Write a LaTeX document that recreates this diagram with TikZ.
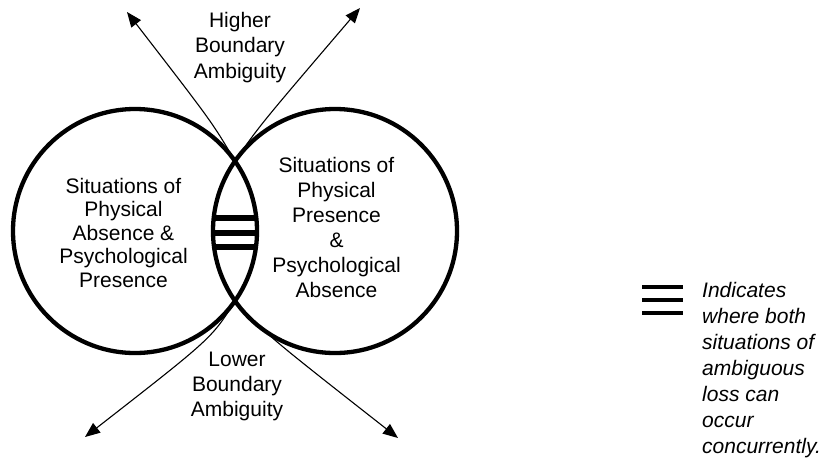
\documentclass[tikz,border=0pt]{standalone}
\usepackage{fontspec}
\setmainfont{Liberation Sans}
\usetikzlibrary{calc,positioning,arrows.meta}

\begin{document}
\begin{tikzpicture}[x=1pt, y=-1pt, lbl/.style={inner sep=0pt, align=center, anchor=north, font=\fontsize{21}{25}\selectfont}]
\tikzstyle{ring}=[circle, draw, line width=4.3pt, minimum size=244pt, inner sep=0pt]
\tikzstyle{ray}=[line width=1.1pt, -{Triangle[length=15pt,width=12pt]}]
\tikzstyle{bar}=[line width=5.2pt]
\useasboundingbox (0,0) rectangle (835,464);
\node[ring] (absence) at (135,231) {};
\node[ring] (presence) at (335,231) {};
\coordinate (hi) at (235,161);
\coordinate (lo) at (235,301);
\coordinate (hl) at (127,12);
\coordinate (hr) at (360,8);
\coordinate (ll) at (85,437);
\coordinate (lr) at (398,438);
\foreach \y in {218,233,247}{\draw[bar] (214,\y) -- (256,\y);}
\node[lbl, font=\fontsize{21}{23.5}\selectfont] (left) at (123.5,178) {Situations of\\Physical\\Absence \&\\Psychological\\Presence};
\node[lbl] (right) at (336.5,157) {Situations of\\Physical\\Presence\\\&\\Psychological\\Absence};
\node[lbl, font=\fontsize{21}{25.5}\selectfont] (higher) at (240,12) {Higher\\Boundary\\Ambiguity};
\node[lbl] (lower) at (237,352) {Lower\\Boundary\\Ambiguity};
\draw[ray] (hi) .. controls (212,122) .. (hl);
\draw[ray] (hi) .. controls (260,125) .. (hr);
\draw[ray] (lo) .. controls (212,338) .. (ll);
\draw[ray] (lo) .. controls (268,336) .. (lr);
\foreach \y in {287,300,313}{\draw[bar, line width=4.5pt] (642,\y) -- (683,\y);}
\node[lbl, anchor=north west, align=left, font=\fontsize{21}{26}\selectfont\itshape] (note) at (702,282) {Indicates\\where both\\situations of\\ambiguous\\loss can\\occur\\concurrently.};
\end{tikzpicture}
\end{document}
